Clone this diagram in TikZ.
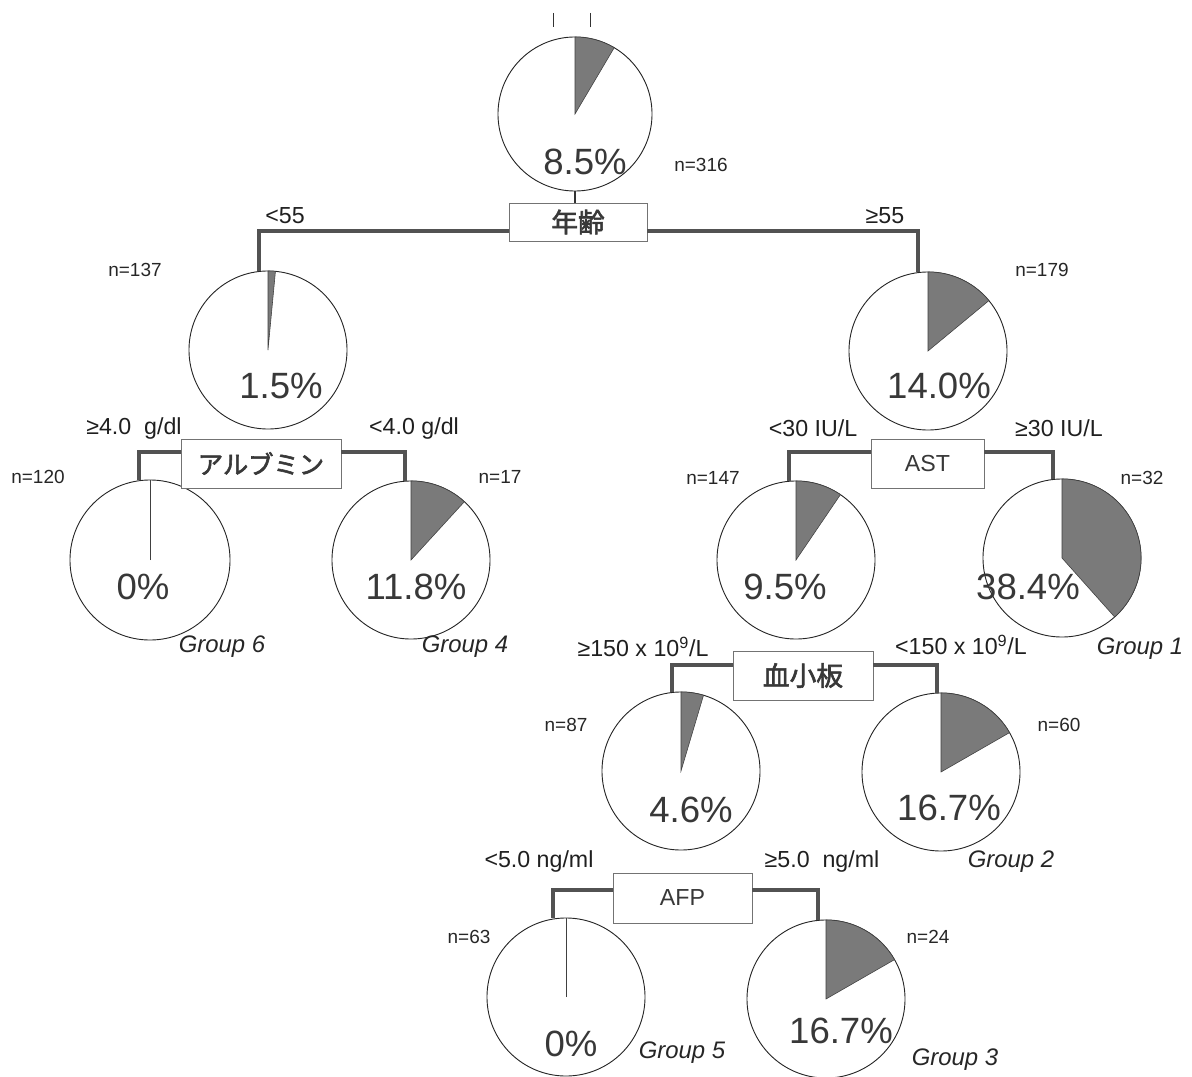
\documentclass[tikz,border=0pt]{standalone}
\usepackage{fontspec}
\setmainfont{Liberation Sans}
\newfontfamily\jpfont[FakeBold=2.2]{Noto Sans CJK JP}
\usetikzlibrary{calc}

% filled sector of a pie node: name, radius, percentage
\newcommand\piesector[3]{%
  \filldraw[sector] (#1.center) -- (#1.north)
    arc[start angle=90, delta angle={-3.6*#3}, radius=#2] -- cycle;}
% empty pie: a single radius from the top
\newcommand\pieradius[1]{\draw[sectorline] (#1.center) -- (#1.north);}

\begin{document}
\begin{tikzpicture}[x=0.025cm, y=-0.025cm,
  pie/.style={circle, draw=black!85, line width=0.65pt, fill=white,
    inner sep=0pt, outer sep=0pt, minimum size=#1},
  pie/.default=3.95cm,
  pct/.style={font=\fontsize{26}{28}\selectfont, text=black!78},
  nlab/.style={font=\fontsize{13.5}{15}\selectfont, text=black!85},
  cond/.style={font=\fontsize{16.5}{18}\selectfont, text=black!88},
  grp/.style={font=\fontsize{17}{19}\selectfont\itshape, text=black!85},
  splitbox/.style={draw=black!55, line width=0.5pt, fill=white,
    inner sep=0pt, outer sep=0pt, text=black!78},
  branch/.style={draw=black!68, line width=2.3pt},
  stem/.style={draw=black!80, line width=0.9pt},
  sector/.style={fill=black!52, draw=black!75, line width=0.4pt},
  sectorline/.style={draw=black!75, line width=0.6pt}
]
\useasboundingbox (0,0) rectangle (1192,1077);

% short marks above the root
\draw[black!80, line width=0.7pt] (553,13) -- (553,27);
\draw[black!80, line width=0.7pt] (590,13) -- (590,27);

% ---- pies ----
\node[pie=3.85cm] (p316) at (575,114) {};
\node[pie] (p137) at (268,350) {};
\node[pie] (p179) at (928,351) {};
\node[pie=4cm] (p120) at (150,560) {};
\node[pie] (p17)  at (411,560) {};
\node[pie] (p147) at (796,560) {};
\node[pie] (p32)  at (1062,558) {};
\node[pie] (p87)  at (681,771) {};
\node[pie] (p60)  at (941,772) {};
\node[pie] (p63)  at (566,997) {};
\node[pie] (p24)  at (826,999) {};

% ---- split boxes ----
\node[splitbox, minimum width=3.45cm, minimum height=0.95cm] (age) at (578,222)
  {\jpfont\fontsize{19}{21}\selectfont 年齢};
\node[splitbox, minimum width=4cm, minimum height=1.225cm] (alb) at (261,463.5)
  {\jpfont\fontsize{18}{20}\selectfont アルブミン};
\node[splitbox, minimum width=2.825cm, minimum height=1.225cm] (ast) at (927.5,463.5)
  {\fontsize{16.5}{18}\selectfont AST};
\node[splitbox, minimum width=3.5cm, minimum height=1.225cm] (plt) at (803,675.5)
  {\jpfont\fontsize{19}{21}\selectfont 血小板};
\node[splitbox, minimum width=3.475cm, minimum height=1.25cm] (afp) at (682.5,898)
  {\fontsize{16.5}{18}\selectfont AFP};

% ---- percentages ----
\node[pct] (t316) at (585,162) {8.5\%};
\node[pct] (t137) at (281,386) {1.5\%};
\node[pct] (t179) at (939,386) {14.0\%};
\node[pct] (t120) at (143,587) {0\%};
\node[pct] (t17)  at (416,587) {11.8\%};
\node[pct] (t147) at (785,587) {9.5\%};
\node[pct] (t32)  at (1028,587) {38.4\%};
\node[pct] (t87)  at (691,810) {4.6\%};
\node[pct] (t60)  at (949,808) {16.7\%};
\node[pct] (t63)  at (571,1044) {0\%};
\node[pct] (t24)  at (841,1031) {16.7\%};

% ---- sectors ----
\piesector{p316}{1.925cm}{8.5}
\piesector{p137}{1.975cm}{1.5}
\piesector{p179}{1.975cm}{14.0}
\pieradius{p120}
\piesector{p17}{1.975cm}{11.8}
\piesector{p147}{1.975cm}{9.5}
\piesector{p32}{1.975cm}{38.4}
\piesector{p87}{1.975cm}{4.6}
\piesector{p60}{1.975cm}{16.7}
\pieradius{p63}
\piesector{p24}{1.975cm}{16.7}

% ---- stems from parent pie to its split box ----
\draw[stem] (p316.south) -- (p316.south |- age.north);
\draw[stem] ($(p137.south)+(-3,0)$) -- ($(p137.south)+(-3,0)$ |- alb.north);
\draw[stem] ($(p179.south)+(-11,0)$) -- ($(p179.south)+(-11,0)$ |- ast.north);
\draw[stem] ($(p147.south)+(1,0)$) -- ($(p147.south)+(1,0)$ |- plt.north);
\draw[stem] ($(p87.south)+(-2,0)$) -- ($(p87.south)+(-2,0)$ |- afp.north);

% ---- branches from split boxes to child pies ----
\draw[branch] ($(age.west)+(0,9)$) -| ($(p137.north)+(-9,0)$);
\draw[branch] ($(age.east)+(0,9)$) -| ($(p179.north)+(-10,0)$);
\draw[branch] ($(alb.west)+(0,-11.5)$) -| ($(p120.north)+(-11,0)$);
\draw[branch] ($(alb.east)+(0,-11.5)$) -| ($(p17.north)+(-6,0)$);
\draw[branch] ($(ast.west)+(0,-11.5)$) -| ($(p147.north)+(-7,0)$);
\draw[branch] ($(ast.east)+(0,-11.5)$) -| ($(p32.north)+(-9,0)$);
\draw[branch] ($(plt.west)+(0,-10.5)$) -| ($(p87.north)+(-9,0)$);
\draw[branch] ($(plt.east)+(0,-10.5)$) -| ($(p60.north)+(-4,0)$);
\draw[branch] ($(afp.west)+(0,-8)$) -| ($(p63.north)+(-13,0)$);
\draw[branch] ($(afp.east)+(0,-8)$) -| ($(p24.north)+(-8,0)$);

% ---- sample sizes ----
\node[nlab] (n316) at (701,165) {n=316};
\node[nlab] (n137) at (135,270) {n=137};
\node[nlab] (n179) at (1042,270) {n=179};
\node[nlab] (n120) at (38,477) {n=120};
\node[nlab] (n17)  at (500,477) {n=17};
\node[nlab] (n147) at (713,478) {n=147};
\node[nlab] (n32)  at (1142,478) {n=32};
\node[nlab] (n87)  at (566,725) {n=87};
\node[nlab] (n60)  at (1059,725) {n=60};
\node[nlab] (n63)  at (469,937) {n=63};
\node[nlab] (n24)  at (928,937) {n=24};

% ---- split conditions ----
\node[cond] (c1) at (285,216) {<55};
\node[cond] (c2) at (885,216) {≥55};
\node[cond] (c3) at (134,428) {≥4.0\ \ g/dl};
\node[cond] (c4) at (414,428) {<4.0 g/dl};
\node[cond] (c5) at (813,428) {<30 IU/L};
\node[cond] (c6) at (1059,428) {≥30 IU/L};
\node[cond] (c7) at (643,647) {≥150 x 10\textsuperscript{9}/L};
\node[cond] (c8) at (961,645) {<150 x 10\textsuperscript{9}/L};
\node[cond] (c9) at (539,861) {<5.0 ng/ml};
\node[cond] (c10) at (822,861) {≥5.0\ \ ng/ml};

% ---- group labels ----
\node[grp] (g6) at (222,647) {Group 6};
\node[grp] (g4) at (465,647) {Group 4};
\node[grp] (g1) at (1140,649) {Group 1};
\node[grp] (g2) at (1011,862) {Group 2};
\node[grp] (g5) at (682,1053) {Group 5};
\node[grp] (g3) at (955,1060) {Group 3};
\end{tikzpicture}
\end{document}
